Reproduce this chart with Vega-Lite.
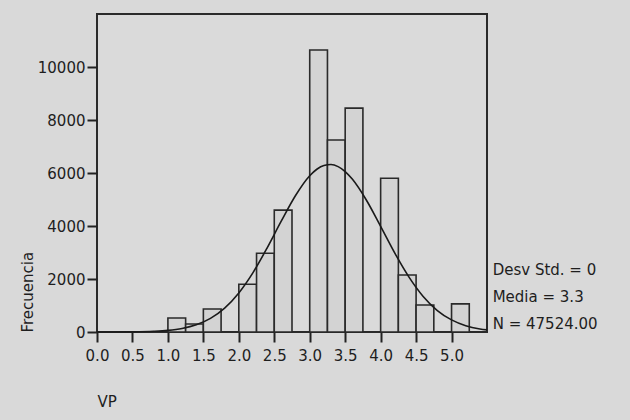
{
  "$schema": "https://vega.github.io/schema/vega-lite/v6.json",
  "width": 390,
  "height": 318,
  "autosize": "none",
  "padding": {"left": 97, "top": 14, "right": 143, "bottom": 88},
  "background": "#d9d9d9",
  "config": {
    "view": {"stroke": "#2a2a2a", "strokeWidth": 2, "fill": "#dadada"},
    "font": "DejaVu Sans",
    "axis": {"labelFont": "DejaVu Sans", "titleFont": "DejaVu Sans", "labelFontSize": 15, "titleFontSize": 15, "titleFontWeight": "normal", "labelColor": "#1e1e1e", "titleColor": "#1e1e1e", "tickColor": "#222", "tickWidth": 2, "tickSize": 10, "grid": false, "domain": false}
  },
  "layer": [
    {
      "data": {"values": [
        {"b0": 1.0, "b1": 1.25, "count": 530},
        {"b0": 1.25, "b1": 1.5, "count": 300},
        {"b0": 1.5, "b1": 1.75, "count": 870},
        {"b0": 2.0, "b1": 2.25, "count": 1800},
        {"b0": 2.25, "b1": 2.5, "count": 2970},
        {"b0": 2.5, "b1": 2.75, "count": 4600},
        {"b0": 3.0, "b1": 3.25, "count": 10640},
        {"b0": 3.25, "b1": 3.5, "count": 7245},
        {"b0": 3.5, "b1": 3.75, "count": 8450},
        {"b0": 4.0, "b1": 4.25, "count": 5800},
        {"b0": 4.25, "b1": 4.5, "count": 2150},
        {"b0": 4.5, "b1": 4.75, "count": 1020},
        {"b0": 5.0, "b1": 5.25, "count": 1060}
      ]},
      "mark": {"type": "rect", "fill": "#d3d3d3", "stroke": "#2a2a2a", "strokeWidth": 1.6},
      "encoding": {
        "x": {"field": "b0", "type": "quantitative", "scale": {"domain": [0, 5.5], "nice": false, "zero": false},
              "axis": {"values": [0, 0.5, 1, 1.5, 2, 2.5, 3, 3.5, 4, 4.5, 5], "tickCount": 20, "format": ".1f", "labelPadding": 6, "labelOverlap": false, "labelSeparation": 0, "title": "VP", "titleAnchor": "start", "titleAlign": "left", "titlePadding": 31, "labelFlush": false}},
        "x2": {"field": "b1"},
        "y": {"field": "count", "type": "quantitative", "scale": {"domain": [0, 12000], "nice": false},
              "axis": {"values": [0, 2000, 4000, 6000, 8000, 10000], "tickCount": 10, "format": "d", "labelPadding": 2, "labelOverlap": false, "title": "Frecuencia", "titleAnchor": "start", "titleAlign": "left", "titlePadding": 2}},
        "y2": {"datum": 0}
      }
    },
    {
      "data": {"values": [
        {"x": 0.0, "y": 0.4}, {"x": 0.2, "y": 1.4}, {"x": 0.5, "y": 6.6}, {"x": 0.8, "y": 27},
        {"x": 1.0, "y": 62}, {"x": 1.2, "y": 135}, {"x": 1.4, "y": 273}, {"x": 1.6, "y": 514},
        {"x": 1.8, "y": 902}, {"x": 2.0, "y": 1473}, {"x": 2.2, "y": 2241}, {"x": 2.4, "y": 3176},
        {"x": 2.6, "y": 4190}, {"x": 2.8, "y": 5150}, {"x": 3.0, "y": 5895}, {"x": 3.1, "y": 6141},
        {"x": 3.2, "y": 6284}, {"x": 3.3, "y": 6318}, {"x": 3.4, "y": 6240}, {"x": 3.5, "y": 6055},
        {"x": 3.6, "y": 5770}, {"x": 3.8, "y": 4971}, {"x": 4.0, "y": 3987}, {"x": 4.2, "y": 2977},
        {"x": 4.4, "y": 2073}, {"x": 4.6, "y": 1343}, {"x": 4.8, "y": 810}, {"x": 5.0, "y": 456},
        {"x": 5.2, "y": 238}, {"x": 5.4, "y": 116}, {"x": 5.5, "y": 79}
      ]},
      "mark": {"type": "line", "color": "#1a1a1a", "strokeWidth": 1.6, "interpolate": "monotone"},
      "encoding": {
        "x": {"field": "x", "type": "quantitative"},
        "y": {"field": "y", "type": "quantitative"}
      }
    },
    {
      "data": {"values": [
        {"label": "Desv Std. = 0", "x": 5.58, "y": 2345},
        {"label": "Media = 3.3", "x": 5.58, "y": 1330},
        {"label": "N = 47524.00", "x": 5.58, "y": 320}
      ]},
      "mark": {"type": "text", "align": "left", "baseline": "middle", "fontSize": 15, "font": "DejaVu Sans", "color": "#1e1e1e"},
      "encoding": {
        "x": {"field": "x", "type": "quantitative"},
        "y": {"field": "y", "type": "quantitative"},
        "text": {"field": "label"}
      }
    }
  ]
}
